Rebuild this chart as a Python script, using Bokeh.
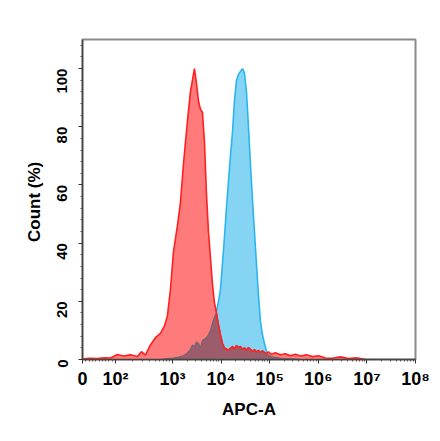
import math
import numpy as np
from bokeh.plotting import figure
from bokeh.models import FixedTicker, Range1d
from bokeh.embed import file_html
from bokeh.resources import INLINE

# x positions on the display axis (decade units of the APC-A scale)
x_pos = [1.169, 1.313, 1.457, 1.601, 1.724, 1.868, 1.992, 2.136, 2.280, 2.362,
         2.444, 2.547, 2.650, 2.753, 2.835, 2.897, 2.959, 3.021, 3.103, 3.165,
         3.226, 3.309, 3.370, 3.412, 3.453, 3.494, 3.535, 3.576, 3.617, 3.658,
         3.700, 3.741, 3.782, 3.823, 3.864, 3.905, 3.947, 3.988, 4.029, 4.070,
         4.111, 4.152, 4.193, 4.235, 4.276, 4.317, 4.358, 4.399, 4.440, 4.481,
         4.523, 4.564, 4.605, 4.646, 4.687, 4.728, 4.770, 4.811, 4.852, 4.893,
         4.934, 4.975, 5.037, 5.119, 5.222, 5.325, 5.428, 5.531, 5.634, 5.757,
         5.881, 6.004, 6.148, 6.292, 6.457, 6.621, 6.786, 6.971]

red_pct = [0.2, 0.4, 0.3, 0.6, 0.5, 1.7, 1.2, 1.6, 1.0, 2.7,
           1.5, 5.0, 7.5, 9.0, 11.5, 15, 24, 37, 46, 54,
           67, 82, 92, 96, 100, 95, 89, 86, 85, 75,
           57, 44, 35, 26, 19.5, 16, 12, 8.5, 5.5, 4.0,
           3.6, 3.2, 3.8, 4.5, 3.6, 4.8, 4.2, 4.5, 3.5, 4.0,
           3.2, 4.1, 3.5, 2.8, 3.4, 2.6, 3.1, 2.5, 3.0, 2.4,
           2.0, 2.6, 1.8, 2.3, 1.6, 2.0, 1.3, 1.8, 1.2, 1.6,
           1.0, 1.3, 0.5, 0.4, 0.9, 0.3, 0.6, 0.0]

blue_pct = [0, 0, 0, 0, 0, 0, 0, 0, 0, 0,
            0, 0, 0, 0, 0.2, 0.3, 0.4, 0.5, 0.7, 1.0,
            1.3, 2.2, 3.5, 5.0, 4.5, 6.0, 5.5, 4.0, 6.5, 7.0,
            7.5, 8.5, 10, 12.5, 14.5, 16.5, 20, 24, 33, 42,
            52, 61, 70, 78, 89, 96, 98, 99, 100, 98.5,
            92, 80, 67, 55, 44, 33, 22, 13, 8.5, 5.5,
            3.0, 1.5, 1.0, 0.7, 0.4, 0.3, 0.2, 0.1, 0, 0,
            0, 0, 0, 0, 0, 0, 0, 0]

x_tick_pos = [1.15, 1.83, 3, 4, 5, 6, 7, 8]
x_tick_labels = ["0", "10²", "10³", "10⁴", "10⁵", "10⁶", "10⁷", "10⁸"]
y_ticks = [0, 20, 40, 60, 80, 100]

x = np.array(x_pos)
r = np.array(red_pct)
b = np.array(blue_pct)
ov = np.minimum(r, b)

W, H = 432, 433
p = figure(width=W, height=H, output_backend="svg", toolbar_location=None,
           x_range=Range1d(1.15, 8.0), y_range=Range1d(0, 110),
           min_border_left=82, min_border_right=W - 415, min_border_top=39,
           min_border_bottom=H - 359)
p.background_fill_color = "white"
p.border_fill_color = "white"
p.grid.visible = False
p.outline_line_color = "#8a8a8a"
p.outline_line_width = 2

# blue sample
p.varea(x=x, y1=0, y2=b, fill_color="#86D4F4", fill_alpha=1.0)
p.line(x, b, line_color="#29B6EE", line_width=1.6)
# red control
p.varea(x=x, y1=0, y2=r, fill_color="#FF7B7B", fill_alpha=1.0)
# overlap
p.varea(x=x, y1=0, y2=ov, fill_color="#9C5C6B", fill_alpha=1.0)
p.line(x, ov, line_color="#6E6672", line_width=1.2)
p.line(x, r, line_color="#FF2020", line_width=1.6)

# minor ticks for x
minor = []
for m in range(1, 10):
    minor.append(1.15 + (1.83 - 1.15) * m / 10)
for m in range(2, 10):
    minor.append(1.83 + (3 - 1.83) * math.log10(m))
for k in range(3, 8):
    for m in range(2, 10):
        minor.append(k + math.log10(m))

p.xaxis.ticker = FixedTicker(ticks=x_tick_pos, minor_ticks=minor)
p.xaxis.major_label_overrides = {t: s for t, s in zip(x_tick_pos, x_tick_labels)}
p.yaxis.ticker = FixedTicker(ticks=y_ticks, minor_ticks=[v for v in range(0, 111, 4) if v % 20])

for ax in (p.xaxis, p.yaxis):
    ax.axis_line_color = "#444444"
    ax.axis_line_width = 1.5
    ax.major_tick_line_color = "#333333"
    ax.minor_tick_line_color = "#555555"
    ax.major_tick_in = 0
    ax.major_tick_out = 4
    ax.minor_tick_in = 0
    ax.minor_tick_out = 2
    ax.major_label_text_font = "Liberation Sans"
    ax.major_label_text_font_style = "bold"
    ax.major_label_text_color = "black"
    ax.axis_label_text_font = "Liberation Sans"
    ax.axis_label_text_font_style = "bold"
    ax.axis_label_text_color = "black"
    ax.axis_label_text_font_size = "17px"

p.xaxis.major_label_text_font_size = "18px"
p.xaxis.major_label_standoff = 5

p.yaxis.major_label_text_font_size = "15px"
p.yaxis.major_label_orientation = math.pi / 2
p.yaxis.major_label_standoff = 16
p.xaxis.axis_label = "APC-A"
p.yaxis.axis_label = "Count  (%)"
p.xaxis.axis_label_standoff = 8
p.yaxis.axis_label_standoff = 6

open("out.html", "w").write(file_html(p, INLINE))
